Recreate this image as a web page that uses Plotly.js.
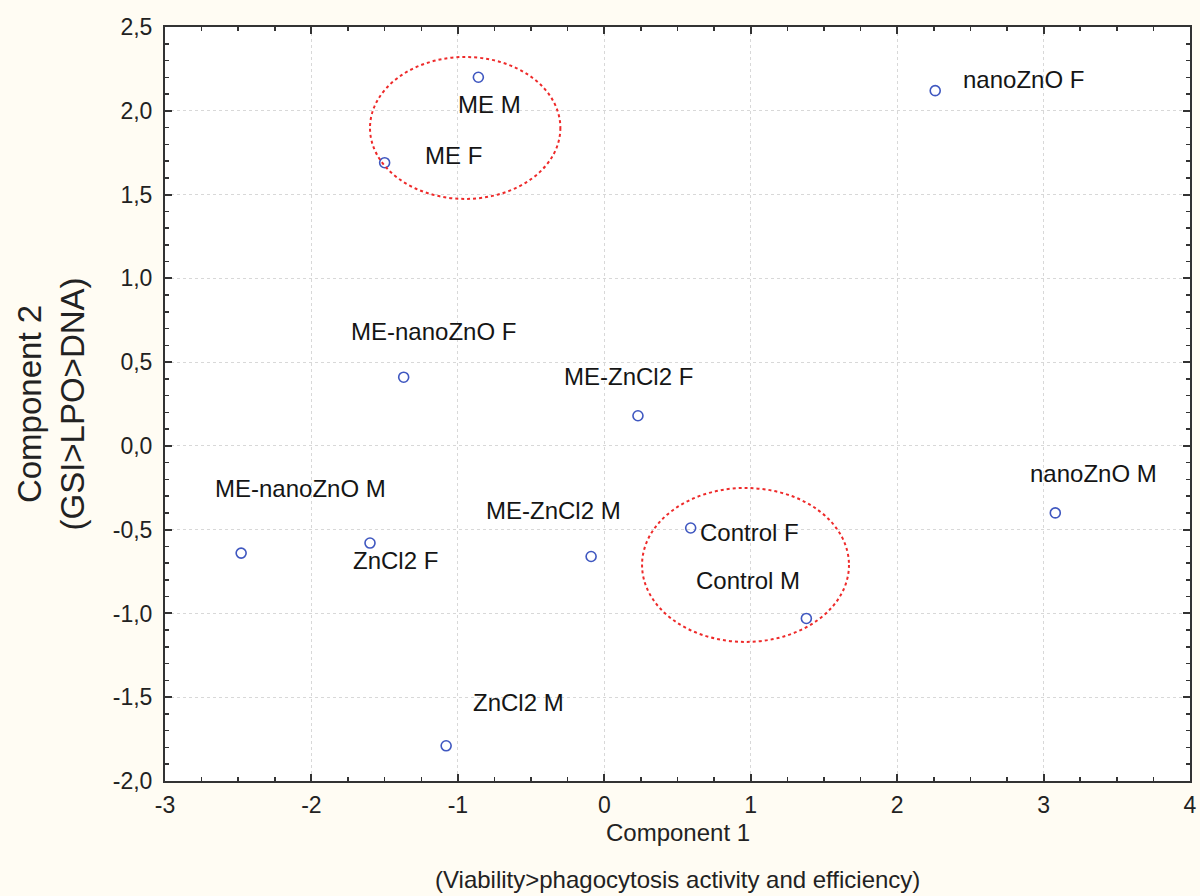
<!DOCTYPE html>
<html><head><meta charset="utf-8">
<script src="https://cdn.plot.ly/plotly-3.0.1.min.js"></script>
<style>html,body{margin:0;padding:0;background:#fffcf3;}</style>
</head><body>
<div id="chart" style="width:1200px;height:896px;"></div>
<script>
const labels = ["ME M","ME F","nanoZnO F","ME-nanoZnO F","ME-ZnCl2 F","nanoZnO M","ME-nanoZnO M","ZnCl2 F","ME-ZnCl2 M","Control F","Control M","ZnCl2 M"];
const comp1 = [-0.86,-1.50,2.26,-1.37,0.23,3.08,-2.48,-1.60,-0.09,0.59,1.38,-1.08];
const comp2 = [2.20,1.69,2.12,0.41,0.18,-0.40,-0.64,-0.58,-0.66,-0.49,-1.03,-1.79];
const xTickVals = [-3,-2,-1,0,1,2,3,4];
const xTickText = ["-3","-2","-1","0","1","2","3","4"];
const yTickVals = [-2,-1.5,-1,-0.5,0,0.5,1,1.5,2,2.5];
const yTickText = ["-2,0","-1,5","-1,0","-0,5","0,0","0,5","1,0","1,5","2,0","2,5"];
const xTitleLines = ["Component 1","(Viability>phagocytosis activity and efficiency)"];
// label offsets in pixels (styling)
const labelDx = [11,69,88,30,-9,38,59,25,-38,59,-58,72];
const labelDy = [27,-7,-11,-46,-39,-39,-65,17,-46,5,-38,-43];
// group ellipses [x0,x1,y0,y1]
const ellipseME = [-1.60,-0.30,1.474,2.321];
const ellipseControl = [0.258,1.671,-1.17,-0.251];

const font = "Liberation Sans, Arial, sans-serif";
const trace = {
  x: comp1, y: comp2, type:'scatter', mode:'markers',
  marker:{symbol:'circle-open', size:10, color:'#3f57c0', line:{width:1.6, color:'#3f57c0'}},
  hoverinfo:'text', text: labels, showlegend:false, cliponaxis:false
};
const annotations = labels.map((t,i)=>({
  x: comp1[i], y: comp2[i], text: t, showarrow:false,
  xshift: labelDx[i], yshift: -labelDy[i],
  font:{family:font, size:24, color:'#151515'}
}));
const xTitleY = [-0.068, -0.131];
xTitleLines.forEach((t,i)=>annotations.push({
  xref:'paper', yref:'paper', x:0.5, y:xTitleY[i], xanchor:'center', yanchor:'middle',
  text:t, showarrow:false, font:{family:font, size:24, color:'#222'}
}));
function ell(e){return {type:'circle', xref:'x', yref:'y', x0:e[0], x1:e[1], y0:e[2], y1:e[3],
  line:{color:'#ee2a2a', width:2, dash:'dot'}, layer:'above'};}
const axisCommon = {
  showline:true, linecolor:'#333', linewidth:2, mirror:'allticks',
  ticks:'inside', ticklen:7, tickwidth:2, tickcolor:'#333', tickmode:'array',
  showgrid:true, gridcolor:'#d8d8d8', griddash:'dot', gridwidth:1,
  zeroline:false, tickfont:{family:font, size:23, color:'#222'}
};
const layout = {
  width:1200, height:896,
  paper_bgcolor:'#fffcf3', plot_bgcolor:'#ffffff',
  margin:{l:165, r:10, t:27, b:115},
  xaxis: Object.assign({}, axisCommon, {
    range:[-3,4], tickvals:xTickVals, ticktext:xTickText, ticklabelstandoff:2,
    minor:{ticks:'inside', ticklen:4, tickwidth:1.5, tickcolor:'#333', dtick:0.25, tick0:0, showgrid:false}
  }),
  yaxis: Object.assign({}, axisCommon, {
    range:[-2,2.5], tickvals:yTickVals, ticktext:yTickText, ticklabelstandoff:6,
    minor:{ticks:'inside', ticklen:4, tickwidth:1.5, tickcolor:'#333', dtick:0.1, tick0:0, showgrid:false},
    title:{text:"Component 2<br>(GSI>LPO>DNA)", standoff:18,
      font:{family:font, size:33, color:'#222'}}
  }),
  shapes:[ell(ellipseME), ell(ellipseControl)],
  annotations: annotations
};
Plotly.newPlot('chart',[trace],layout,{displayModeBar:false, staticPlot:true});
</script>
</body></html>
